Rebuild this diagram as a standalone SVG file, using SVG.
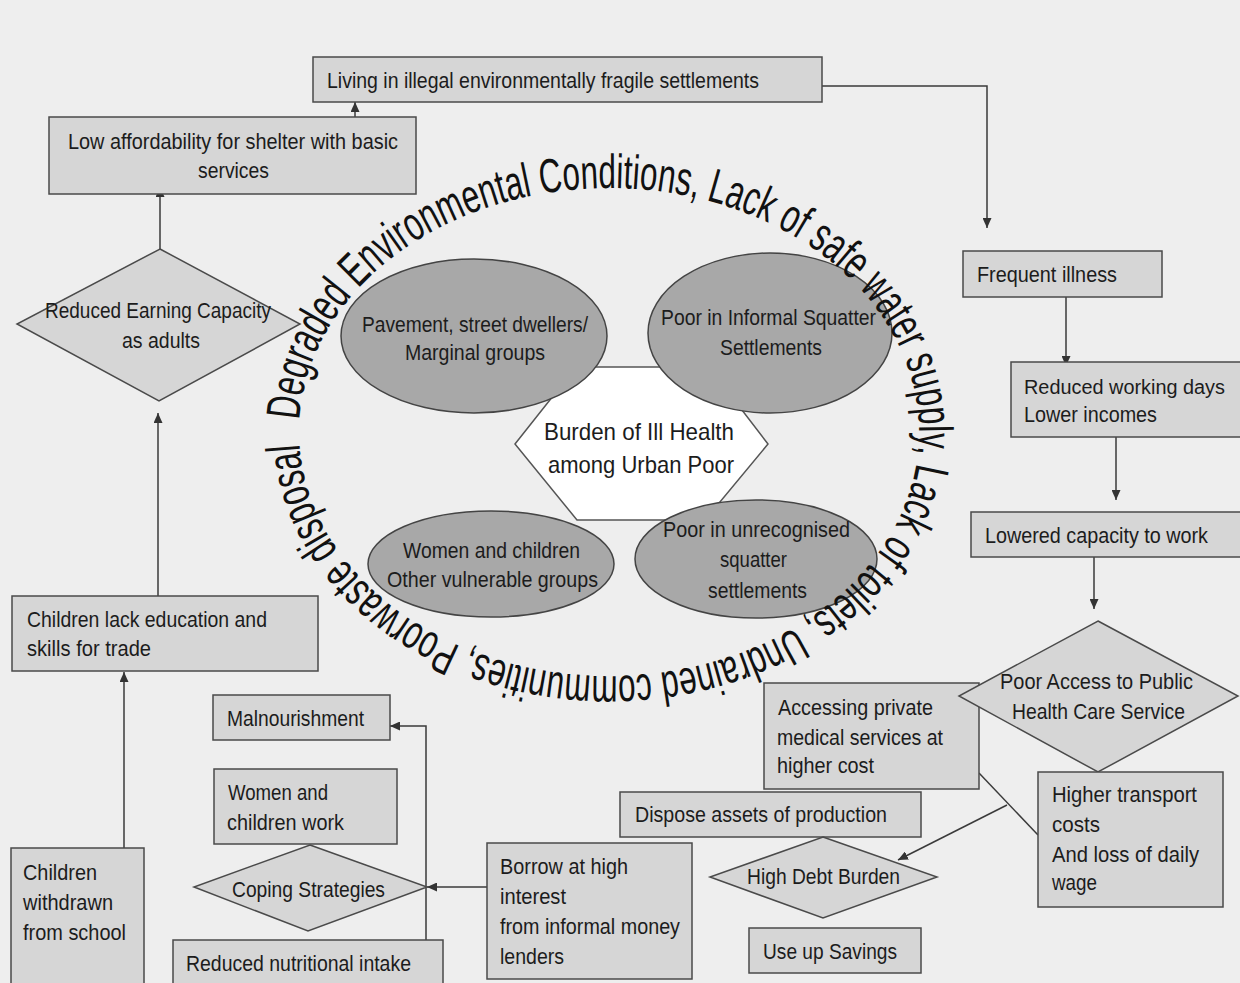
<svg xmlns="http://www.w3.org/2000/svg" width="1240" height="983" viewBox="0 0 1240 983">
<style>
.bg{fill:#eeeeee}
.box{fill:#d6d6d6;stroke:#4a4a4a;stroke-width:1.5}
.ell{fill:#a8a8a8;stroke:#444;stroke-width:1.5}
.hex{fill:#ffffff;stroke:#555;stroke-width:1.5}
.t{font-family:"Liberation Sans",Arial,sans-serif;font-size:22px;fill:#1c1c1c}
.th{font-family:"Liberation Sans",Arial,sans-serif;font-size:24px;fill:#1c1c1c}
.arc{font-family:"Liberation Sans",Arial,sans-serif;font-size:48px;fill:#111}
.ln{fill:none;stroke:#3a3a3a;stroke-width:1.5}
</style>
<defs>
<marker id="ah" markerWidth="10" markerHeight="9" refX="10" refY="4.5" orient="auto" markerUnits="userSpaceOnUse">
<path d="M0,0 L10,4.5 L0,9 z" fill="#333"/>
</marker>
<path id="ring" d="M 299 432 A 310 244 0 1 1 919 432 A 310 244 0 1 1 299 432"/>
</defs>
<rect class="bg" x="0" y="0" width="1240" height="983"/>

<g id="connectors">
<line class="ln" x1="355" y1="117" x2="355" y2="102" marker-end="url(#ah)"/>
<polyline class="ln" points="822,86 987,86 987,228" marker-end="url(#ah)"/>
<line class="ln" x1="1066" y1="297" x2="1066" y2="366" marker-end="url(#ah)"/>
<line class="ln" x1="1116" y1="437" x2="1116" y2="500" marker-end="url(#ah)"/>
<line class="ln" x1="1094" y1="557" x2="1094" y2="609" marker-end="url(#ah)"/>
<line class="ln" x1="979" y1="773" x2="1038" y2="835"/>
<line class="ln" x1="1007" y1="805" x2="898" y2="860" marker-end="url(#ah)"/>
<line class="ln" x1="487" y1="887" x2="427" y2="887" marker-end="url(#ah)"/>
<polyline class="ln" points="426,940 426,726 390,726" marker-end="url(#ah)"/>
<line class="ln" x1="124" y1="848" x2="124" y2="672" marker-end="url(#ah)"/>
<line class="ln" x1="158" y1="596" x2="158" y2="413" marker-end="url(#ah)"/>
<line class="ln" x1="160" y1="249" x2="160" y2="187" marker-end="url(#ah)"/>
</g>

<g id="living">
<rect class="box" x="313" y="57" width="509" height="45"/>
<text class="t" x="327" y="88" textLength="432" lengthAdjust="spacingAndGlyphs">Living in illegal environmentally fragile settlements</text>
</g>
<g id="low-affordability">
<rect class="box" x="49" y="117" width="367" height="77"/>
<text class="t" x="68" y="149" textLength="330" lengthAdjust="spacingAndGlyphs">Low affordability for shelter with basic</text>
<text class="t" x="198" y="178" textLength="71" lengthAdjust="spacingAndGlyphs">services</text>
</g>
<g id="reduced-earning">
<polygon class="box" points="160,249 300,324 159,401 17,324"/>
<text class="t" x="45" y="318" textLength="226" lengthAdjust="spacingAndGlyphs">Reduced Earning Capacity</text>
<text class="t" x="122" y="348" textLength="78" lengthAdjust="spacingAndGlyphs">as adults</text>
</g>
<g id="children-lack">
<rect class="box" x="12" y="596" width="306" height="75"/>
<text class="t" x="27" y="627" textLength="240" lengthAdjust="spacingAndGlyphs">Children lack education and</text>
<text class="t" x="27" y="656" textLength="124" lengthAdjust="spacingAndGlyphs">skills for trade</text>
</g>
<g id="children-withdrawn">
<rect class="box" x="11" y="848" width="133" height="145"/>
<text class="t" x="23" y="880" textLength="74" lengthAdjust="spacingAndGlyphs">Children</text>
<text class="t" x="23" y="910" textLength="90" lengthAdjust="spacingAndGlyphs">withdrawn</text>
<text class="t" x="23" y="940" textLength="103" lengthAdjust="spacingAndGlyphs">from school</text>
</g>
<g id="malnourishment">
<rect class="box" x="213" y="695" width="177" height="45"/>
<text class="t" x="227" y="726" textLength="137" lengthAdjust="spacingAndGlyphs">Malnourishment</text>
</g>
<g id="women-work">
<rect class="box" x="214" y="769" width="183" height="75"/>
<text class="t" x="228" y="800" textLength="100" lengthAdjust="spacingAndGlyphs">Women and</text>
<text class="t" x="227" y="830" textLength="117" lengthAdjust="spacingAndGlyphs">children work</text>
</g>
<g id="coping">
<polygon class="box" points="310,845 427,887 308,931 194,887"/>
<text class="t" x="232" y="897" textLength="153" lengthAdjust="spacingAndGlyphs">Coping Strategies</text>
</g>
<g id="reduced-nutrition">
<rect class="box" x="173" y="940" width="270" height="55"/>
<text class="t" x="186" y="971" textLength="225" lengthAdjust="spacingAndGlyphs">Reduced nutritional intake</text>
</g>
<g id="borrow">
<rect class="box" x="487" y="843" width="205" height="136"/>
<text class="t" x="500" y="874" textLength="128" lengthAdjust="spacingAndGlyphs">Borrow at high</text>
<text class="t" x="500" y="904" textLength="66" lengthAdjust="spacingAndGlyphs">interest</text>
<text class="t" x="500" y="934" textLength="180" lengthAdjust="spacingAndGlyphs">from informal money</text>
<text class="t" x="500" y="964" textLength="64" lengthAdjust="spacingAndGlyphs">lenders</text>
</g>
<g id="dispose">
<rect class="box" x="620" y="792" width="301" height="45"/>
<text class="t" x="635" y="822" textLength="252" lengthAdjust="spacingAndGlyphs">Dispose assets of production</text>
</g>
<g id="high-debt">
<polygon class="box" points="823,837 937,877 823,918 710,877"/>
<text class="t" x="747" y="884" textLength="153" lengthAdjust="spacingAndGlyphs">High Debt Burden</text>
</g>
<g id="savings">
<rect class="box" x="749" y="928" width="172" height="45"/>
<text class="t" x="763" y="959" textLength="134" lengthAdjust="spacingAndGlyphs">Use up Savings</text>
</g>
<g id="accessing">
<rect class="box" x="764" y="683" width="215" height="106"/>
<text class="t" x="778" y="715" textLength="155" lengthAdjust="spacingAndGlyphs">Accessing private</text>
<text class="t" x="777" y="745" textLength="166" lengthAdjust="spacingAndGlyphs">medical services at</text>
<text class="t" x="777" y="773" textLength="97" lengthAdjust="spacingAndGlyphs">higher cost</text>
</g>
<g id="poor-access">
<polygon class="box" points="1098,621 1238,696 1098,772 959,696"/>
<text class="t" x="1000" y="689" textLength="193" lengthAdjust="spacingAndGlyphs">Poor Access to Public</text>
<text class="t" x="1012" y="719" textLength="173" lengthAdjust="spacingAndGlyphs">Health Care Service</text>
</g>
<g id="higher-transport">
<rect class="box" x="1038" y="772" width="185" height="135"/>
<text class="t" x="1052" y="802" textLength="145" lengthAdjust="spacingAndGlyphs">Higher transport</text>
<text class="t" x="1052" y="832" textLength="48" lengthAdjust="spacingAndGlyphs">costs</text>
<text class="t" x="1052" y="862" textLength="147" lengthAdjust="spacingAndGlyphs">And loss of daily</text>
<text class="t" x="1052" y="890" textLength="45" lengthAdjust="spacingAndGlyphs">wage</text>
</g>
<g id="frequent-illness">
<rect class="box" x="963" y="251" width="199" height="46"/>
<text class="t" x="977" y="282" textLength="140" lengthAdjust="spacingAndGlyphs">Frequent illness</text>
</g>
<g id="reduced-working">
<rect class="box" x="1011" y="362" width="240" height="75"/>
<text class="t" x="1024" y="394" style="font-size:20px" textLength="201" lengthAdjust="spacingAndGlyphs">Reduced working days</text>
<text class="t" x="1024" y="422" textLength="133" lengthAdjust="spacingAndGlyphs">Lower incomes</text>
</g>
<g id="lowered-capacity">
<rect class="box" x="971" y="512" width="280" height="45"/>
<text class="t" x="985" y="543" textLength="223" lengthAdjust="spacingAndGlyphs">Lowered capacity to work</text>
</g>

<g id="burden">
<polygon class="hex" points="515,444 576,367 709,367 768,444 705,520 577,520"/>
<text class="th" x="544" y="440" textLength="190" lengthAdjust="spacingAndGlyphs">Burden of Ill Health</text>
<text class="th" x="548" y="473" textLength="186" lengthAdjust="spacingAndGlyphs">among Urban Poor</text>
</g>
<g id="pavement">
<ellipse class="ell" cx="474" cy="336" rx="133" ry="77"/>
<text class="t" x="362" y="332" textLength="226" lengthAdjust="spacingAndGlyphs">Pavement, street dwellers/</text>
<text class="t" x="405" y="360" textLength="140" lengthAdjust="spacingAndGlyphs">Marginal groups</text>
</g>
<g id="informal-squatter">
<ellipse class="ell" cx="770" cy="333" rx="122" ry="80"/>
<text class="t" x="661" y="325" textLength="215" lengthAdjust="spacingAndGlyphs">Poor in Informal Squatter</text>
<text class="t" x="720" y="355" textLength="102" lengthAdjust="spacingAndGlyphs">Settlements</text>
</g>
<g id="women-children">
<ellipse class="ell" cx="491" cy="564" rx="123" ry="53"/>
<text class="t" x="403" y="558" textLength="177" lengthAdjust="spacingAndGlyphs">Women and children</text>
<text class="t" x="387" y="587" textLength="211" lengthAdjust="spacingAndGlyphs">Other vulnerable groups</text>
</g>
<g id="unrecognised-squatter">
<ellipse class="ell" cx="756" cy="559" rx="121" ry="59"/>
<text class="t" x="663" y="537" textLength="187" lengthAdjust="spacingAndGlyphs">Poor in unrecognised</text>
<text class="t" x="720" y="567" textLength="67" lengthAdjust="spacingAndGlyphs">squatter</text>
<text class="t" x="708" y="598" textLength="99" lengthAdjust="spacingAndGlyphs">settlements</text>
</g>

<g id="ring-text">
<text class="arc"><textPath href="#ring" startOffset="12" textLength="1722" lengthAdjust="spacingAndGlyphs">Degraded Environmental Conditions, Lack of safe water supply, Lack of toilets, Undrained communities, Poorwaste disposal</textPath></text>
</g>
</svg>
